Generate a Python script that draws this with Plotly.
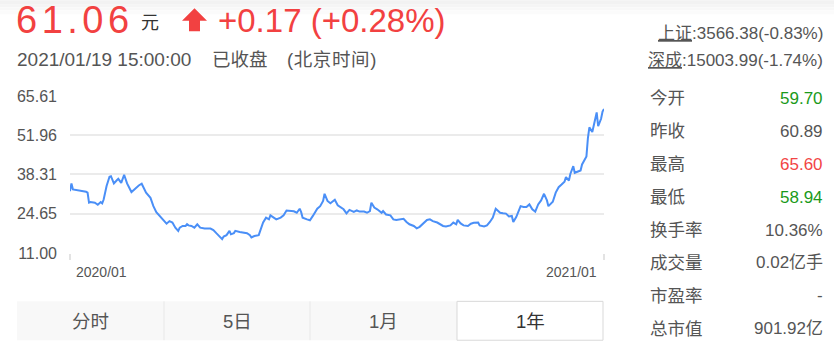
import plotly.graph_objects as go

# ---------------- data ----------------
day = [0, 1, 2, 6, 9, 11, 12, 13, 14, 17, 19, 21, 22, 23, 25, 27, 28, 30, 32, 33, 35, 36, 37, 39, 40,
       42, 44, 46, 47, 49, 50, 51, 52, 55, 57, 59, 62, 64, 66, 68, 70, 72, 74, 75, 77, 79, 80, 81, 83,
       85, 87, 89, 91, 92, 96, 98, 100, 102, 104, 105, 107, 109, 110, 112, 113, 116, 118, 121, 123,
       124, 126, 129, 130, 132, 134, 136, 137, 139, 141, 144, 146, 148, 150, 153, 155, 157, 158, 159,
       162, 164, 166, 169, 171, 173, 174, 176, 178, 180, 181, 183, 185, 187, 189, 191, 194, 196, 198,
       201, 203, 205, 206, 208, 210, 213, 214, 216, 219, 221, 223, 226, 228, 230, 232, 235, 237, 239,
       241, 244, 246, 248, 251, 253, 255, 257, 260, 262, 264, 265, 267, 269, 272, 274, 276, 279, 280,
       283, 285, 287, 289, 291, 294, 296, 298, 300, 302, 303, 305, 308, 310, 312, 314, 316, 318, 320,
       322, 324, 326, 327, 330, 332, 334, 336, 338, 339, 341, 342, 344, 345, 347, 349, 350, 351, 353,
       354, 355, 357, 359, 360, 361, 363, 364, 365]
price = [32.5, 35.2, 33.1, 32.8, 32.5, 32.3, 32.0, 28.5, 28.7, 28.5, 27.8, 28.7, 28.3, 29.6, 34.3,
         37.5, 37.7, 35.2, 36.3, 36.8, 35.4, 37.2, 38.2, 35.2, 34.0, 32.2, 33.1, 34.3, 34.5, 35.1,
         34.0, 32.5, 32.0, 30.2, 27.3, 25.2, 23.5, 22.1, 21.2, 22.1, 21.6, 19.8, 18.7, 19.8, 20.4,
         20.4, 21.0, 20.6, 20.4, 19.8, 21.0, 19.8, 19.6, 19.5, 19.5, 19.0, 17.9, 16.7, 15.8, 16.7,
         17.2, 18.7, 17.5, 17.9, 18.7, 18.3, 18.1, 17.9, 17.2, 16.4, 16.9, 17.2, 18.7, 21.6, 23.3,
         22.7, 24.1, 23.3, 22.7, 23.3, 24.1, 25.8, 25.6, 25.5, 25.0, 26.4, 25.2, 23.3, 22.7, 22.4,
         23.9, 26.4, 27.3, 29.1, 31.6, 29.1, 28.3, 29.1, 29.5, 27.6, 26.8, 26.2, 24.8, 26.0, 25.3,
         25.8, 25.4, 25.4, 25.0, 25.6, 28.5, 26.8, 26.2, 25.0, 25.6, 24.4, 24.1, 22.7, 22.5, 22.9,
         22.9, 21.8, 21.0, 20.4, 19.6, 20.1, 21.2, 22.5, 22.7, 22.1, 21.6, 21.0, 20.4, 20.2, 20.6,
         21.6, 21.0, 22.5, 21.3, 20.6, 20.4, 21.2, 21.5, 21.6, 20.6, 20.2, 20.6, 21.8, 23.3, 26.4,
         25.0, 24.8, 24.7, 23.7, 23.9, 21.8, 23.5, 27.3, 27.0, 27.0, 27.9, 26.2, 25.4, 27.9, 29.3,
         31.6, 29.3, 27.3, 28.8, 32.0, 33.9, 34.8, 35.8, 37.4, 36.2, 38.5, 41.2, 38.9, 39.2, 39.7,
         41.8, 42.9, 44.6, 51.0, 54.7, 53.1, 57.9, 59.9, 55.1, 57.7, 60.2, 61.06]

y_ticks = [11.00, 24.65, 38.31, 51.96, 65.61]
x_tick_labels = ["2020/01", "2021/01"]
x_tick_pos = [0, 365]

last_price = "61.06"
change_text = "+0.17 (+0.28%)"
time_text = "2021/01/19 15:00:00"
status_text = "已收盘"
zone_text = "(北京时间)"

index_names = ["上证", "深成"]
index_values = [":3566.38(-0.83%)", ":15003.99(-1.74%)"]

stat_labels = ["今开", "昨收", "最高", "最低", "换手率", "成交量", "市盈率", "总市值"]
stat_values = ["59.70", "60.89", "65.60", "58.94", "10.36%", "0.02亿手", "-", "901.92亿"]
stat_colors = ["#1a9a1a", "#555555", "#f24545", "#1a9a1a", "#555555", "#555555", "#555555", "#555555"]

tab_labels = ["分时", "5日", "1月", "1年"]

# ---------------- layout helpers ----------------
W, H = 834, 356
L, R, T, B = 70, 604, 96, 253.5
FONT = "Arial, 'Liberation Sans', 'Noto Sans CJK SC', sans-serif"
RED = "#f24141"


def px(x):
    return (x - L) / (R - L)


def py(y):
    return (B - y) / (B - T)


fig = go.Figure()
fig.add_trace(go.Scatter(x=day, y=price, mode="lines",
                         line=dict(color="#4a8ff7", width=2), hoverinfo="skip"))

ann = []


def text(x, y, s, size, color, xanchor="left", yanchor="middle"):
    ann.append(dict(x=px(x), y=py(y), xref="paper", yref="paper", text=s, showarrow=False,
                    xanchor=xanchor, yanchor=yanchor, font=dict(size=size, color=color, family=FONT)))


# header
text(14, 20, f"<span style='letter-spacing:4.5px'>{last_price}</span>", 38, RED)
text(139, 23, "元", 18, "#333333")
text(216, 20, change_text, 33, RED)
text(15, 59, time_text, 19, "#555555")
text(210, 59, status_text, 18.5, "#555555")
text(285, 59, f"<span style='letter-spacing:0.6px'>{zone_text}</span>", 18.5, "#555555")

# index quotes
for i, (n, v) in enumerate(zip(index_names, index_values)):
    text(825, 33 + 27 * i, f"<span style='text-decoration:underline'>{n}</span>{v}", 17, "#555555",
         xanchor="right")

# stats
for i, (lab, val, col) in enumerate(zip(stat_labels, stat_values, stat_colors)):
    yy = 98.5 + 33 * i
    text(648, yy, lab, 17.5, "#555555")
    text(825, yy, val, 17, col, xanchor="right")

# x tick labels
ann.append(dict(x=x_tick_pos[0], y=py(273), xref="x", yref="paper", text=x_tick_labels[0],
                showarrow=False, xanchor="left", xshift=4, yanchor="middle",
                font=dict(size=14, color="#555555", family=FONT)))
ann.append(dict(x=x_tick_pos[1], y=py(273), xref="x", yref="paper", text=x_tick_labels[1],
                showarrow=False, xanchor="right", xshift=-5, yanchor="middle",
                font=dict(size=14, color="#555555", family=FONT)))

# tabs
tab_edges = [17, 164, 310, 457, 603]
shapes = []
shapes.append(dict(type="rect", xref="paper", yref="paper", x0=px(17), x1=px(457), y0=py(341), y1=py(302),
                   fillcolor="#f8f8f8", line=dict(width=0), layer="below"))
for e in tab_edges[1:3]:
    shapes.append(dict(type="line", xref="paper", yref="paper", x0=px(e), x1=px(e), y0=py(341), y1=py(302),
                       line=dict(color="#e8e8e8", width=1)))
shapes.append(dict(type="rect", xref="paper", yref="paper", x0=px(457), x1=px(603), y0=py(341), y1=py(302),
                   fillcolor="#ffffff", line=dict(color="#d9d9d9", width=1)))
for i, lab in enumerate(tab_labels):
    cx = (tab_edges[i] + tab_edges[i + 1]) / 2
    text(cx, 322, lab, 18.5, "#333333" if i == 3 else "#555555", xanchor="center")

# up arrow
ax = [194.5, 207, 200, 200, 189, 189, 182]
ay = [8, 20.5, 20.5, 31, 31, 20.5, 20.5]
path = "M " + " L ".join(f"{px(a)},{py(b)}" for a, b in zip(ax, ay)) + " Z"
shapes.append(dict(type="path", xref="paper", yref="paper", path=path, fillcolor=RED, line=dict(width=0)))

# faint gradient band along the top edge
for (ya, yb, c) in [(0, 4, "#f2f2f2"), (4, 7, "#f5f5f5"), (7, 10, "#f8f8f8"), (10, 14, "#fbfbfb")]:
    shapes.append(dict(type="rect", xref="paper", yref="paper", x0=px(0), x1=px(834), y0=py(yb), y1=py(ya),
                       fillcolor=c, line=dict(width=0), layer="below"))

fig.update_layout(
    width=W, height=H,
    margin=dict(l=L, r=W - R, t=T, b=H - B),
    paper_bgcolor="white", plot_bgcolor="white",
    showlegend=False,
    annotations=ann, shapes=shapes,
    font=dict(family=FONT),
    xaxis=dict(range=[0, 365], showgrid=False, zeroline=False, showline=False,
               tickmode="array", tickvals=x_tick_pos, ticktext=["", ""], ticks="outside",
               ticklen=6, tickcolor="#e3e3e3", tickwidth=1.5, fixedrange=True),
    yaxis=dict(range=[y_ticks[0], y_ticks[-1]], tickmode="array", tickvals=y_ticks,
               ticktext=[f"{v:.2f}" for v in y_ticks], showgrid=True, gridcolor="#ebebeb",
               gridwidth=1.5, zeroline=False, showline=False, ticks="",
               ticklabelstandoff=12, tickfont=dict(size=16, color="#555555", family=FONT),
               fixedrange=True),
)

fig.write_html("out.html", config={"displayModeBar": False})
